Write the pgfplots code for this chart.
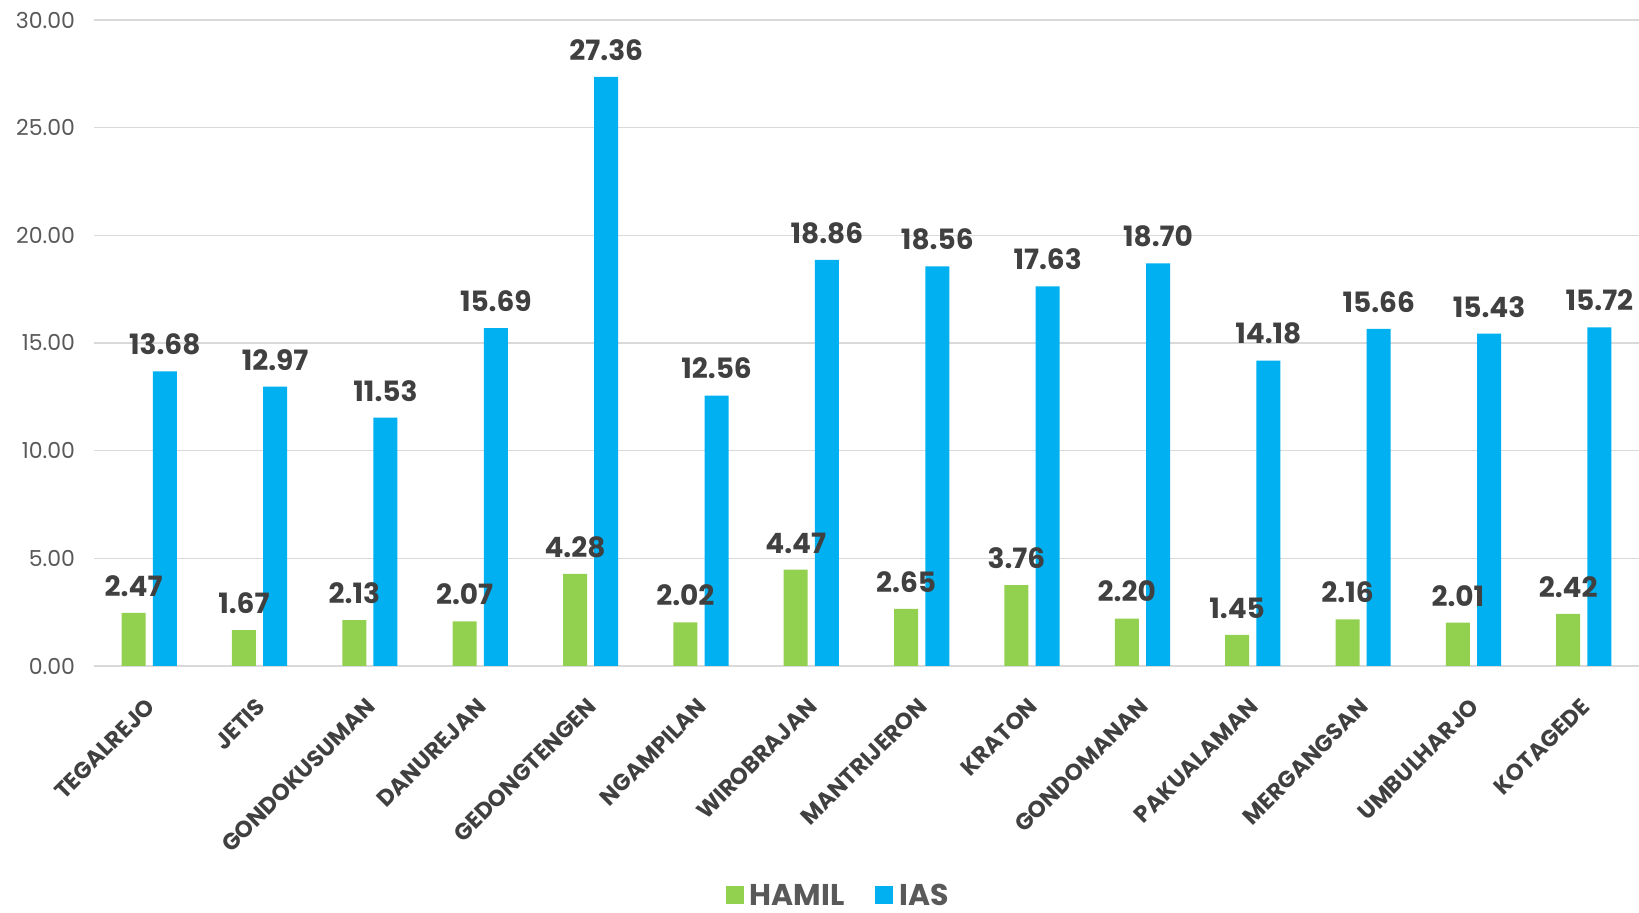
\documentclass[border=0pt]{standalone}
\usepackage{pgfplots}
\pgfplotsset{compat=1.18}
\usepackage{fontspec}
\setmainfont{Poppins}
\definecolor{hamil}{HTML}{92D050}
\definecolor{ias}{HTML}{00B0F0}
\definecolor{gridc}{HTML}{D9D9D9}
\definecolor{ticklab}{HTML}{595959}
\definecolor{datalab}{HTML}{404040}
\begin{document}
\begin{tikzpicture}
\begin{axis}[
  scale only axis,
  width=772.5pt, height=323pt,
  xmin=-0.5, xmax=13.5,
  ymin=0, ymax=30,
  ytick={0,5,10,15,20,25,30},
  xtick={0,...,13},
  xticklabels={TEGALREJO,JETIS,GONDOKUSUMAN,DANUREJAN,GEDONGTENGEN,NGAMPILAN,WIROBRAJAN,MANTRIJERON,KRATON,GONDOMANAN,PAKUALAMAN,MERGANGSAN,UMBULHARJO,KOTAGEDE},
  axis x line*=bottom, axis y line*=left,
  y axis line style={draw=none},
  x axis line style={draw=gridc, line width=0.75pt},
  major tick length=0pt,
  ymajorgrids, grid style={draw=gridc, line width=0.75pt},
  /pgf/number format/assume math mode=true,
  yticklabel style={/pgf/number format/fixed, /pgf/number format/zerofill, /pgf/number format/precision=2, font=\fontsize{11}{13}\selectfont, text=ticklab, xshift=-6pt},
  xticklabel style={rotate=45, anchor=east, font=\bfseries\fontsize{11.5}{13}\selectfont, text=datalab, yshift=-13.5pt, xshift=-9pt},
  ybar, bar width=12pt,
  nodes near coords,
  nodes near coords style={font=\bfseries\fontsize{14}{16}\selectfont, text=datalab, /pgf/number format/fixed, /pgf/number format/zerofill, /pgf/number format/precision=2, inner sep=0pt, anchor=south, yshift=8pt},
  legend style={at={(0.482,-0.356)}, anchor=center, legend columns=2, draw=none, fill=none, inner sep=0pt, nodes={inner sep=1.5pt}, font=\bfseries\fontsize{15}{17}\selectfont, text=ticklab, /tikz/every odd column/.append style={column sep=1.5pt}, /tikz/every even column/.append style={column sep=14pt}},
  legend image code/.code={\fill[#1] (0pt,-4pt) rectangle (9pt,5pt);},
]
\addplot[fill=hamil, draw=none, bar shift=-7.8pt] coordinates {
(0,2.47) (1,1.67) (2,2.13) (3,2.07) (4,4.28) (5,2.02) (6,4.47) (7,2.65) (8,3.76) (9,2.20) (10,1.45) (11,2.16) (12,2.01) (13,2.42)};
\addlegendentry{HAMIL}
\addplot[fill=ias, draw=none, bar shift=7.8pt] coordinates {
(0,13.68) (1,12.97) (2,11.53) (3,15.69) (4,27.36) (5,12.56) (6,18.86) (7,18.56) (8,17.63) (9,18.70) (10,14.18) (11,15.66) (12,15.43) (13,15.72)};
\addlegendentry{IAS}
\end{axis}
\pgfresetboundingbox
\useasboundingbox (-47pt,-123.5pt) rectangle (772.5pt,333pt);
\end{tikzpicture}
\end{document}
